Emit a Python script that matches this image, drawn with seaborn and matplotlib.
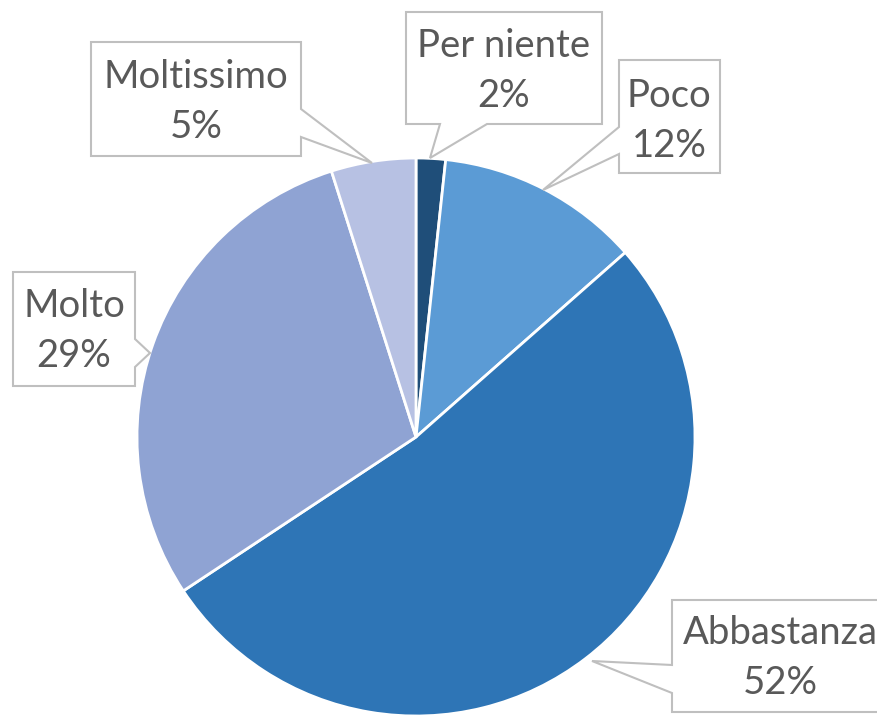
import matplotlib
matplotlib.use('Agg')
import matplotlib.pyplot as plt
import seaborn as sns
from matplotlib.patches import Polygon

# data (percent of answers)
categories = ['Per niente', 'Poco', 'Abbastanza', 'Molto', 'Moltissimo']
shares = [1.7, 11.8, 52.2, 29.4, 4.9]
colors = ['#1F4E79', '#5B9BD5', '#2E75B6', '#8FA3D3', '#B7C1E3']

sns.set_style('white')
plt.rcParams['font.family'] = ['Lato', 'DejaVu Sans']

W, H = 877, 715
fig = plt.figure(figsize=(W / 100, H / 100), dpi=100)
ax = fig.add_axes([0, 0, 1, 1])


def py(y):
    # pixel row (top down) -> data y
    return H - y


ax.pie(shares, colors=colors, startangle=90, counterclock=False,
       center=(416, py(437)), radius=279,
       wedgeprops=dict(edgecolor='white', linewidth=2.0))

# pie() resets the limits, so set them afterwards
ax.set_xlim(0, W)
ax.set_ylim(0, H)
ax.set_aspect('equal')
ax.axis('off')

# callout boxes: outline (pixel coords) and text centre
callouts = {
    'Per niente': ([(406, 12), (602, 12), (602, 124), (487, 124), (430, 158),
                    (440, 124), (406, 124)], (504, 71)),
    'Poco': ([(619, 60), (720, 60), (720, 173), (619, 173), (619, 154),
              (543, 190), (619, 127)], (669, 121)),
    'Abbastanza': ([(672, 600), (892, 600), (892, 712), (672, 712), (672, 693),
                    (592, 661), (672, 665)], (780, 658)),
    'Molto': ([(13, 272), (135, 272), (135, 339), (150, 353), (135, 367),
               (135, 386), (13, 386)], (74, 331)),
    'Moltissimo': ([(91, 42), (301, 42), (301, 109), (372, 163), (301, 137),
                    (301, 156), (91, 156)], (196, 102)),
}

for name, share in zip(categories, shares):
    pts, (tx, ty) = callouts[name]
    poly = Polygon([(x, py(y)) for x, y in pts], closed=True,
                   facecolor='white', edgecolor='#BFBFBF', linewidth=1.5,
                   zorder=3)
    ax.add_patch(poly)
    ax.text(tx, py(ty), f'{name}\n{round(share):.0f}%', ha='center',
            va='center', fontsize=27.5, color='#595959', linespacing=1.48,
            zorder=4)

fig.savefig('out.png', dpi=100)
